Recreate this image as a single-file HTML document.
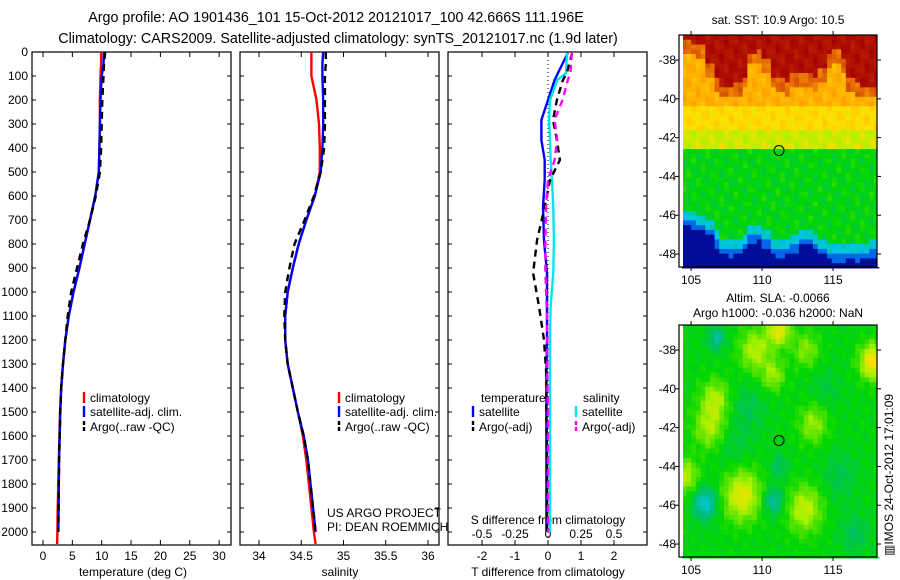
<!DOCTYPE html>
<html><head><meta charset="utf-8"><style>
html,body{margin:0;padding:0;background:#fff;}
svg{display:block;font-family:"Liberation Sans",sans-serif;}
</style></head><body>
<svg id="chart" width="900" height="580" viewBox="0 0 900 580" xmlns="http://www.w3.org/2000/svg">
<text x="336" y="22" font-size="14.3" text-anchor="middle">Argo profile: AO 1901436_101 15-Oct-2012 20121017_100 42.666S 111.196E</text>
<text x="338" y="43" font-size="14.3" text-anchor="middle">Climatology: CARS2009. Satellite-adjusted climatology: synTS_20121017.nc (1.9d later)</text>
<g id="g"></g>
</svg>
<script>
// ---------- profile data ----------
const depths = [0,50,100,200,300,400,500,600,700,800,900,1000,1100,1200,1300,1400,1500,1600,1700,1800,1900,2000,2050];
const climT = [9.9,9.9,9.8,9.7,9.7,9.6,9.5,8.9,8.0,7.1,6.2,5.2,4.4,3.8,3.4,3.1,2.9,2.8,2.7,2.6,2.5,2.45,2.4];
const satT  = [10.4,10.3,10.0,9.8,9.7,9.6,9.5,8.9,8.0,7.1,6.2,5.2,4.4,3.8,3.4,3.1,2.95,2.85,2.75,2.7,2.65,2.6,null];
const argoT = [10.6,10.4,10.3,10.1,10.0,9.9,9.7,9.0,8.0,6.8,5.8,4.8,4.2,3.8,3.4,3.1,2.95,2.85,2.75,2.7,2.65,2.6,null];
const climS = [34.62,34.62,34.62,34.68,34.71,34.72,34.72,34.66,34.56,34.47,34.40,34.34,34.31,34.31,34.34,34.40,34.46,34.52,34.56,34.59,34.62,34.65,34.67];
const satS  = [34.76,34.75,34.75,34.76,34.76,34.75,34.73,34.66,34.56,34.47,34.40,34.34,34.31,34.31,34.34,34.40,34.46,34.53,34.58,34.61,34.64,34.67,null];
const argoS = [34.79,34.79,34.78,34.78,34.78,34.77,34.73,34.65,34.54,34.42,34.36,34.31,34.30,34.31,34.34,34.40,34.46,34.53,34.58,34.61,34.64,34.67,null];
// differences
const dDepth = [4,88,117,200,283,367,450,533,646,783,921,1062,1200,1350,1500,1700,2000];
const satTd  = [0.6,0.3,0.2,0,-0.2,-0.2,-0.1,-0.1,-0.15,-0.12,-0.03,-0.03,-0.03,-0.05,-0.05,-0.05,-0.05];
const satSd  = [0.144,0.136,0.07,0.015,0.008,0.015,0.02,0.03,0.04,0.045,0.04,0.02,0.015,0.015,0.015,0.015,0.015];
const argoTd = [0.73,0.57,0.45,0.27,0.15,0.27,0.36,0.06,-0.1,-0.33,-0.45,-0.27,-0.12,-0.05,-0.05,-0.03,-0.03];
const argoSd = [0.18,0.17,0.15,0.11,0.05,0.07,0.05,0,-0.015,-0.02,-0.02,-0.01,-0.005,-0.005,0,0,0];
// ticks
const depthTicks = [0,100,200,300,400,500,600,700,800,900,1000,1100,1200,1300,1400,1500,1600,1700,1800,1900,2000];
const tTicks = [0,5,10,15,20,25,30];
const sTicks = [34,34.5,35,35.5,36];
const tdTicks = [-2,-1,0,1,2];
const sdTicks = [-0.5,-0.25,0,0.25,0.5];
const sdLabels = ["-0.5","-0.25","0","0.25","0.5"];
// SST map: per 0.5deg column fronts (lon 104.25..118.0)
const sstNorthFront = [-36.9,-37.0,-37.1,-37.3,-38.2,-39.0,-39.3,-39.3,-39.2,-38.8,-37.6,-37.5,-38.0,-38.8,-39.0,-39.1,-38.7,-38.6,-38.7,-38.9,-38.5,-37.8,-37.5,-38.0,-38.9,-39.2,-39.3,-39.3];
const sstSouthFront = [-45.8,-45.7,-45.8,-45.9,-46.2,-46.8,-47.2,-47.3,-47.2,-46.9,-46.5,-46.4,-46.8,-47.2,-47.3,-47.2,-47.0,-46.7,-46.7,-46.9,-47.2,-47.4,-47.5,-47.5,-47.4,-47.5,-47.4,-47.3];
// SLA blobs
const blobLon = [109.5,111.2,110.8,106.7,106.3,104.6,108.6,113.0,117.8,113.6,113.1,106.0,106.8,110.8,109.0,115.5,116.5,111.2,108.0,114.5];
const blobLat = [-38.0,-37.0,-39.3,-40.5,-42.0,-44.5,-45.5,-46.2,-38.6,-41.8,-38.0,-45.9,-37.4,-45.8,-41.0,-44.5,-47.5,-44.0,-43.0,-40.0];
const blobVal = [0.55,0.75,0.45,0.5,0.5,0.55,0.75,0.6,0.9,0.45,0.4,-0.7,-0.5,-0.55,-0.2,-0.2,-0.25,-0.3,-0.15,-0.15];
const blobRad = [1.1,0.8,0.8,1.0,1.1,0.9,1.3,1.2,0.9,1.0,0.9,0.8,0.6,0.7,1.2,1.2,1.0,0.6,1.2,1.0];

const NS="http://www.w3.org/2000/svg";
const G=document.getElementById('g');
function el(tag,attrs,parent){const e=document.createElementNS(NS,tag);for(const k in attrs)e.setAttribute(k,attrs[k]);(parent||G).appendChild(e);return e;}
function txt(s,x,y,attrs,parent){const e=el('text',Object.assign({x:x,y:y,'font-size':12},attrs||{}),parent);e.textContent=s;return e;}

const TOP=52,BOT=545;
function yD(d){return TOP+d*0.24;}
function xT(v){return 43+v*5.87;}
function xS(v){return 259+(v-34)*84.5;}
function xTd(v){return 548+v*33;}
function xSd(v){return 548+v*132;}

function panel(x0,name){
  const r=el('rect',{x:x0,y:TOP,width:199,height:BOT-TOP,fill:'none',stroke:'#000','stroke-width':1.2});
  
  
  depthTicks.forEach(d=>{el('line',{x1:x0,x2:x0+4,y1:yD(d),y2:yD(d),stroke:'#000'});el('line',{x1:x0+199,x2:x0+195,y1:yD(d),y2:yD(d),stroke:'#000'});});
}
function xticks(vals,fx,labels,ylab){
  vals.forEach((v,i)=>{const x=fx(v);el('line',{x1:x,x2:x,y1:TOP,y2:TOP+5,stroke:'#000'});el('line',{x1:x,x2:x,y1:BOT,y2:BOT-5,stroke:'#000'});
    const t=txt(labels[i],x,ylab,{'text-anchor':'middle'});
    
    });
}
function line(xs,ys,fx,fy,color,name,dash){
  let d='';let pen=false;
  for(let i=0;i<xs.length;i++){if(xs[i]==null){pen=false;continue;}d+=(pen?'L':'M')+fx(xs[i]).toFixed(1)+','+fy(ys[i]).toFixed(1);pen=true;}
  const p=el('path',{d:d,fill:'none',stroke:color,'stroke-width':2.4});
  if(dash)p.setAttribute('stroke-dasharray',dash);
  
  
}
function legendRow(x,y,color,label,dash,name){
  const l=el('line',{x1:x,x2:x,y1:y-10,y2:y+1,stroke:color,'stroke-width':2.4});
  if(dash)l.setAttribute('stroke-dasharray',dash);
  const t=txt(label,x+6,y,{});
  
  
}

// Panel 1
panel(32,'temperature-panel');
depthTicks.forEach(d=>{const t=txt(String(d),28,yD(d)+4,{'text-anchor':'end'});});
xticks(tTicks,xT,tTicks.map(String),560);
let t1=txt('temperature (deg C)',133,576,{'text-anchor':'middle'});


line(climT,depths,xT,yD,'#ff0000','temp-climatology-line');
line(satT,depths,xT,yD,'#0000ff','temp-satellite-line');
line(argoT,depths,xT,yD,'#000000','temp-argo-line','7,5');
legendRow(84,402,'#ff0000','climatology',null,'legend-climatology');
legendRow(84,416,'#0000ff','satellite-adj. clim.',null,'legend-satellite');
legendRow(84,431,'#000000','Argo(..raw -QC)','4,2','legend-argo');

// Panel 2
panel(240,'salinity-panel');
xticks(sTicks,xS,sTicks.map(String),560);
let t2=txt('salinity',340,576,{'text-anchor':'middle'});


line(climS,depths,xS,yD,'#ff0000','sal-climatology-line');
line(satS,depths,xS,yD,'#0000ff','sal-satellite-line');
line(argoS,depths,xS,yD,'#000000','sal-argo-line','7,5');
legendRow(339,402,'#ff0000','climatology',null,'legend-climatology-2');
legendRow(339,416,'#0000ff','satellite-adj. clim.',null,'legend-satellite-2');
legendRow(339,431,'#000000','Argo(..raw -QC)','4,2','legend-argo-2');
let p1=txt('US ARGO PROJECT',327,517,{});


let p2=txt('PI: DEAN ROEMMICH',327,531,{});



// Panel 3
panel(448,'difference-panel');
xticks(tdTicks,xTd,tdTicks.map(String),560);
let t3=txt('T difference from climatology',548,576,{'text-anchor':'middle'});


el('line',{x1:548,x2:548,y1:TOP,y2:BOT,stroke:'#000','stroke-dasharray':'1,3'});
let sdt=txt('S difference from climatology',548,524,{'text-anchor':'middle'});


sdTicks.forEach((v,i)=>{const t=txt(sdLabels[i],xSd(v),538,{'text-anchor':'middle'});});
line(satTd,dDepth,xTd,yD,'#0000ff','tdiff-satellite-line');
line(satSd,dDepth,xSd,yD,'#00e5ee','sdiff-satellite-line');
line(argoTd,dDepth,xTd,yD,'#000000','tdiff-argo-line','7,5');
line(argoSd,dDepth,xSd,yD,'#ff00ff','sdiff-argo-line','7,5');
let lt=txt('temperature',481,402,{});
let ls=txt('salinity',583,402,{});
legendRow(473,416,'#0000ff','satellite',null,'legend-t-satellite');
legendRow(473,431,'#000000','Argo(-adj)','4,2','legend-t-argo');
legendRow(576,416,'#00e5ee','satellite',null,'legend-s-satellite');
legendRow(576,431,'#ff00ff','Argo(-adj)','4,2','legend-s-argo');

// ---------- maps ----------
const MX0=679,MX1=877;
const LON0=104.15,LON1=118.1,LAT0=-36.71,LAT1=-48.67;
function mx(lon){return MX0+(lon-LON0)*14.2;}
function my(lat,top){return top+(LAT0-lat)*19.4;}
const stops=[[0,[0,0,130]],[0.12,[0,40,200]],[0.22,[0,120,240]],[0.32,[0,200,230]],[0.42,[0,190,110]],[0.5,[0,215,0]],[0.6,[170,240,0]],[0.68,[255,225,0]],[0.78,[255,165,0]],[0.88,[220,90,0]],[1,[165,0,0]]];
function cmap(s){s=Math.max(0,Math.min(1,s));for(let i=1;i<stops.length;i++){if(s<=stops[i][0]){const a=stops[i-1],b=stops[i];const f=(s-a[0])/(b[0]-a[0]);return 'rgb('+a[1].map((c,k)=>Math.round(c+(b[1][k]-c)*f)).join(',')+')';}}return 'rgb(165,0,0)';}
function tex(lon,lat){return Math.sin(lon*5.3+lat*2.1)*Math.cos(lat*4.7-lon*1.3);}
function sst(lon,lat){
  const ci=Math.max(0,Math.min(sstNorthFront.length-1,Math.floor((lon-104.0)/0.5)));
  const n=sstNorthFront[ci],so=sstSouthFront[ci];
  const w=tex(lon,lat);
  if(lat>n)return 0.98+0.02*w;
  if(lat>n-0.7)return 0.86+0.04*w;
  if(lat>-40.4)return 0.76+0.03*w;
  if(lat>-41.5)return 0.69+0.03*w;
  if(lat>-42.6)return 0.63+0.03*w;
  if(lat>so)return 0.49+0.035*w;
  if(lat>so-0.5)return 0.33+0.03*w;
  if(lat>so-0.9)return 0.2;
  return 0.04;
}
function sla(lon,lat){let v=0;for(let i=0;i<blobLon.length;i++){const dx=(lon-blobLon[i])/blobRad[i],dy=(lat-blobLat[i])/blobRad[i];v+=blobVal[i]*Math.exp(-(dx*dx+dy*dy));}return 0.49+v*0.22+0.02*tex(lon,lat);}
function map(top,fn,name){
  const g=el('g',{});
  
  
  const dlon=0.33,dlat=0.245;
  for(let lon=104.35;lon<LON1;lon+=dlon){for(let lat=LAT0;lat>LAT1;lat-=dlat){
    const x=mx(lon),y=my(lat,top);
    el('rect',{x:x.toFixed(1),y:y.toFixed(1),width:(dlon*14.2+0.6).toFixed(1),height:(dlat*19.4+0.6).toFixed(1),fill:cmap(fn(lon+dlon/2,lat-dlat/2))},g);
  }}
  const h=232;
  el('rect',{x:MX0,y:top,width:4,height:h,fill:'#fff'},g);
  el('rect',{x:MX1,y:top,width:23,height:h,fill:'#fff'});
  el('rect',{x:MX0,y:top,width:MX1-MX0,height:h,fill:'none',stroke:'#000','stroke-width':1.2});
  [105,110,115].forEach(l=>{const x=mx(l);el('line',{x1:x,x2:x,y1:top,y2:top-4,stroke:'#000'});el('line',{x1:x,x2:x,y1:top+h,y2:top+h+4,stroke:'#000'});
    const t=txt(String(l),x,top+h+17,{'text-anchor':'middle'});});
  [-38,-40,-42,-44,-46,-48].forEach(l=>{const y=my(l,top);el('line',{x1:MX0,x2:MX0-4,y1:y,y2:y,stroke:'#000'});el('line',{x1:MX1,x2:MX1+4,y1:y,y2:y,stroke:'#000'});
    const t=txt(String(l),676,y+4,{'text-anchor':'end'});});
  const c=el('circle',{cx:mx(111.196),cy:my(-42.666,top),r:5,fill:'none',stroke:'#000','stroke-width':1});
  
  
}
map(35,sst,'sst-map');
map(325,sla,'sla-map');
let m1=txt('sat. SST: 10.9 Argo: 10.5',778,24,{'text-anchor':'middle'});
let m2=txt('Altim. SLA: -0.0066',778,302,{'text-anchor':'middle'});
let m3=txt('Argo h1000: -0.036 h2000: NaN',778,317,{'text-anchor':'middle'});
let im=txt('\u25A5IMOS 24-Oct-2012 17:01:09',0,0,{'text-anchor':'start',transform:'translate(893,556) rotate(-90)'});


</script>
</body></html>
